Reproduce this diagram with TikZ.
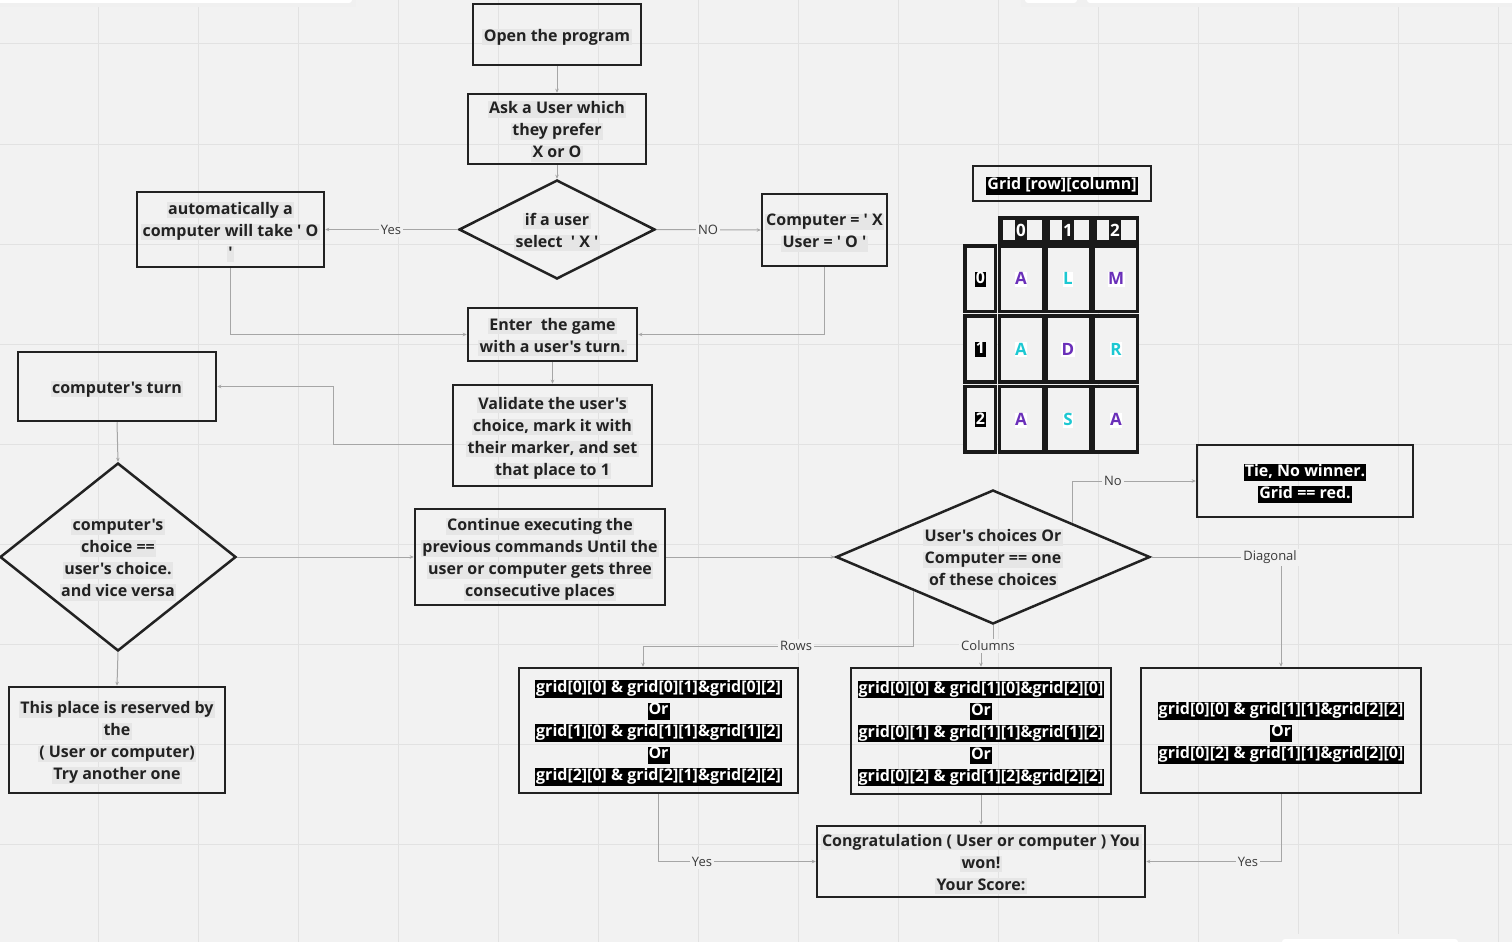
\documentclass[tikz,border=0pt]{standalone}
\usepackage{fontspec}
\setmainfont{Open Sans}[Ligatures=TeXOff]
\usetikzlibrary{arrows.meta,shapes.geometric}

\definecolor{canvas}{HTML}{F2F2F2}
\definecolor{gridline}{HTML}{E2E2E2}
\definecolor{boxline}{HTML}{222222}
\definecolor{wire}{HTML}{A6A6A6}
\definecolor{hlgray}{HTML}{E6E6E6}
\definecolor{cellink}{HTML}{1A1A1A}
\definecolor{mpurple}{HTML}{6A2FB9}
\definecolor{mcyan}{HTML}{1CC8D2}
\definecolor{lbl}{HTML}{3A3A3A}

% highlighted line of text (light grey) and inverted line (white on black)
\newcommand{\hl}[1]{{\setlength{\fboxsep}{0pt}\colorbox{hlgray}{\kern1.5pt\rule[-4pt]{0pt}{16pt}#1\kern1.5pt}}}
\newcommand{\inv}[1]{{\setlength{\fboxsep}{0pt}\colorbox{black}{\kern1pt\rule[-5pt]{0pt}{17pt}\textcolor{white}{#1}\kern1pt}}}
\newcommand{\wl}[2]{{\setlength{\fboxsep}{0pt}\colorbox{white}{\kern0.5pt\rule[-2pt]{0pt}{15pt}\textcolor{#1}{#2}\kern0.5pt}}}
\newcommand{\bd}[1]{{\setlength{\fboxsep}{0pt}\colorbox{black}{\kern1pt\rule[-3pt]{0pt}{15pt}\textcolor{white}{#1}\kern1pt}}}

\begin{document}
\begin{tikzpicture}[x=1pt,y=-1pt,
  btext/.style={align=center, inner sep=0pt, yshift=-2.5pt,
    font=\fontsize{16}{22}\selectfont\bfseries, text=boxline},
  box/.style={draw=boxline, line width=2.5pt, inner sep=0pt},
  txt/.style={label={[btext]center:{#1}}},
  decide/.style={diamond, draw=boxline, line width=2.5pt, inner sep=0pt},
  conn/.style={draw=wire, line width=1pt, -{Stealth[length=4pt,width=3.5pt]}},
  elabel/.style={fill=canvas, inner sep=2pt, text=lbl, font=\fontsize{13}{15}\selectfont},
  cell/.style={draw=cellink, line width=3.5pt, fill=canvas},
  letter/.style={inner sep=0pt, font=\fontsize{17}{17}\selectfont\bfseries},
]
% canvas and board grid
\useasboundingbox (0,0) rectangle (1512,942);
\fill[canvas] (0,0) rectangle (1512,942);
\foreach \gx in {0,...,14} \draw[gridline, line width=1pt] (98.5+100*\gx,0) -- (98.5+100*\gx,942);
\foreach \gy in {0,...,8} \draw[gridline, line width=1pt] (0,44+100*\gy) -- (1512,44+100*\gy);

% toolbar edges along the border
\fill[black!6] (0,0) rectangle (356,7);
\fill[white, rounded corners=3pt] (-5,-5) rectangle (352,3);
\fill[black!6] (1021,0) rectangle (1512,7);
\fill[white, rounded corners=3pt] (1025,-5) rectangle (1077,3);
\fill[white, rounded corners=3pt] (1087,-5) rectangle (1517,3);
\fill[black!5] (1278,934) rectangle (1462,942);
\fill[white, rounded corners=3pt] (1282,939) rectangle (1458,947);

% main flow boxes
\node[box, minimum width=168, minimum height=61, txt={\hl{Open the program}}] (open) at (557,34.5) {};
\node[box, minimum width=178, minimum height=70, txt={\hl{Ask a User which}\\\hl{they prefer}\\\hl{X or O}}] (ask) at (557,129) {};
\node[decide, minimum width=196, minimum height=99, txt={\hl{if a user}\\\hl{select\ \ ' X '}}] (pick) at (557,229.5) {};
\node[box, minimum width=187, minimum height=75, txt={\hl{automatically a}\\\hl{computer will take ' O}\\\hl{'}}] (auto) at (230.5,229.5) {};
\node[box, minimum width=125, minimum height=72, txt={\hl{Computer = ' X}\\\hl{User = ' O '}}] (comp) at (824.5,230) {};
\node[box, minimum width=169, minimum height=53, txt={\hl{Enter\ \ the game}\\\hl{with a user's turn.}}] (enter) at (552.5,334.5) {};
\node[box, minimum width=199, minimum height=101, txt={\hl{Validate the user's}\\\hl{choice, mark it with}\\\hl{their marker, and set}\\\hl{that place to 1}}] (valid) at (552.5,435.5) {};
\node[box, minimum width=198, minimum height=69, txt={\hl{computer's turn}}] (cturn) at (117,386.5) {};
\node[decide, minimum width=236, minimum height=188, txt={\hl{computer's}\\\hl{choice ==}\\\hl{user's choice.}\\\hl{and vice versa}}] (cpick) at (118,557) {};
\node[box, minimum width=216, minimum height=106, txt={\hl{This place is reserved by}\\\hl{the}\\\hl{( User or computer)}\\\hl{Try another one}}] (taken) at (117,740) {};
\node[box, minimum width=250, minimum height=96, txt={\hl{Continue executing the}\\\hl{previous commands Until the}\\\hl{user or computer gets three}\\\hl{consecutive places}}] (cont) at (540,557) {};
\node[decide, minimum width=314, minimum height=134, txt={\hl{User's choices Or}\\\hl{Computer == one}\\\hl{of these choices}}] (check) at (993,557) {};
\node[box, minimum width=216, minimum height=72, txt={\inv{Tie, No winner.}\\\inv{Grid == red.}}] (tie) at (1305,481) {};
\node[box, minimum width=279, minimum height=125, txt={\inv{grid[0][0] \& grid[0][1]\&grid[0][2]}\\\inv{Or}\\\inv{grid[1][0] \& grid[1][1]\&grid[1][2]}\\\inv{Or}\\\inv{grid[2][0] \& grid[2][1]\&grid[2][2]}}] (rows) at (658.5,730.5) {};
\node[box, minimum width=260, minimum height=126, txt={\inv{grid[0][0] \& grid[1][0]\&grid[2][0]}\\\inv{Or}\\\inv{grid[0][1] \& grid[1][1]\&grid[1][2]}\\\inv{Or}\\\inv{grid[0][2] \& grid[1][2]\&grid[2][2]}}] (cols) at (981,731) {};
\node[box, minimum width=280, minimum height=125, txt={\inv{grid[0][0] \& grid[1][1]\&grid[2][2]}\\\inv{Or}\\\inv{grid[0][2] \& grid[1][1]\&grid[2][0]}}] (diag) at (1281,730.5) {};
\node[box, minimum width=328, minimum height=71, txt={\hl{Congratulation ( User or computer ) You}\\\hl{won!}\\\hl{Your Score:}}] (win) at (981,861.5) {};

% connectors
\draw[conn] (open.south) -- (ask.north);
\draw[conn] (ask.south) -- (pick.north);
\draw[conn] (pick.west) -- (auto.east);
\node[elabel] (lyes1) at (391,230) {Yes};
\draw[conn] (pick.east) -- (comp.west);
\node[elabel] (lno1) at (708,230) {NO};
\draw[conn] (auto.south) |- (enter.west);
\draw[conn] (comp.south) |- (enter.east);
\draw[conn] (enter.south) -- (valid.north);
\draw[conn] ([yshift=-8.5pt]valid.west) -- ++(-118,0) |- (cturn.east);
\draw[conn] (cturn.south) -- (cpick.north);
\draw[conn] (cpick.south) -- (taken.north);
\draw[conn] (cpick.east) -- (cont.west);
\draw[conn] (cont.east) -- (check.west);
\draw[conn] (check.north east) |- (tie.west);
\node[elabel] (lno2) at (1113,481) {No};
\draw[conn] (check.east) -| (diag.north);
\node[elabel] (ldiag) at (1270,557) {Diagonal};
\coordinate (rbend) at (643,646);
\draw[conn] (check.south west) |- (rbend) -- (rbend |- rows.north);
\node[elabel] (lrows) at (796,646) {Rows};
\draw[conn] (check.south) -- (check.south |- rbend) -| (cols.north);
\node[elabel] (lcols) at (988,646) {Columns};
\draw[conn] (rows.south) |- (win.west);
\node[elabel] (lyes2) at (702,862) {Yes};
\draw[conn] (cols.south) -- (win.north);
\draw[conn] (diag.south) |- (win.east);
\node[elabel] (lyes3) at (1248,862) {Yes};

% grid legend
\node[box, minimum width=178, minimum height=35, txt={\inv{Grid [row][column]}}] (legend) at (1062,183.5) {};
\foreach \j in {0,1,2} {
  \fill[cellink] (998+47*\j,216) rectangle (1045+47*\j,244);
  \fill[canvas] (1002.5+47*\j,220) rectangle (1015+47*\j,240);
  \fill[canvas] (1027+47*\j,220) rectangle (1042+47*\j,240);
  \node[text=white, font=\fontsize{17}{17}\selectfont\bfseries, inner sep=0pt] (col\j) at (1021+47*\j,230.5) {\j};
}
\foreach \i in {0,1,2} {
  \draw[cell] (965,245.8+70.3*\i) rectangle (995.5,311.5+70.3*\i);
  \node[inner sep=0pt, font=\fontsize{16}{16}\selectfont\bfseries] (row\i) at (980.5,279+70.3*\i) {\bd{\i}};
  \foreach \j in {0,1,2} \draw[cell] (999.7+47*\j,245.8+70.3*\i) rectangle (1043.3+47*\j,311.5+70.3*\i);
}
\node[letter] (c00) at (1021,279) {\wl{mpurple}{A}};
\node[letter] (c01) at (1068,279) {\wl{mcyan}{L}};
\node[letter] (c02) at (1116,279) {\wl{mpurple}{M}};
\node[letter] (c10) at (1021,349.5) {\wl{mcyan}{A}};
\node[letter] (c11) at (1068,349.5) {\wl{mpurple}{D}};
\node[letter] (c12) at (1116,349.5) {\wl{mcyan}{R}};
\node[letter] (c20) at (1021,420) {\wl{mpurple}{A}};
\node[letter] (c21) at (1068,420) {\wl{mcyan}{S}};
\node[letter] (c22) at (1116,420) {\wl{mpurple}{A}};
\end{tikzpicture}
\end{document}
